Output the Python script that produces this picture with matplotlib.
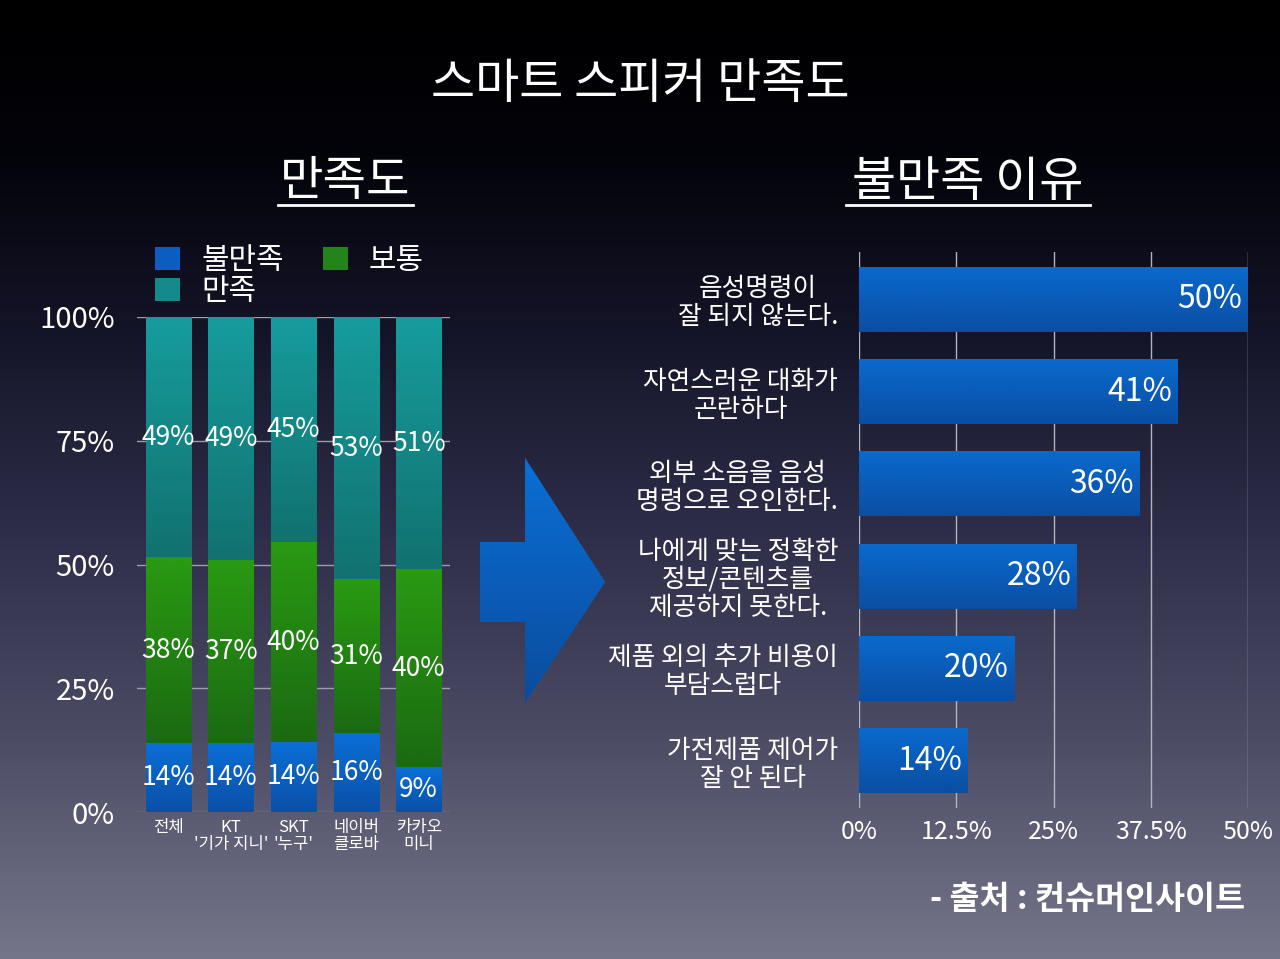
import matplotlib
matplotlib.use("Agg")
import numpy as np
import matplotlib.pyplot as plt
from matplotlib.colors import LinearSegmentedColormap, to_rgb
from matplotlib.patches import Polygon, Patch
from matplotlib.lines import Line2D

plt.rcParams['font.family'] = ['Noto Sans CJK KR', 'DejaVu Sans']

# 만족도 (stacked, %)
brands = ['전체', "KT\n'기가 지니'", "SKT\n'누구'", '네이버\n클로바', '카카오\n미니']
unsatisfied = [14, 14, 14, 16, 9]
neutral = [38, 37, 40, 31, 40]
satisfied = [49, 49, 45, 53, 51]
left_yticks = [0, 25, 50, 75, 100]

# 불만족 이유 (%)
reasons = ['음성명령이\n잘 되지 않는다.', '자연스러운 대화가\n곤란하다',
           '외부 소음을 음성\n명령으로 오인한다.',
           '나에게 맞는 정확한\n정보/콘텐츠를\n제공하지 못한다.',
           '제품 외의 추가 비용이\n부담스럽다', '가전제품 제어가\n잘 안 된다']
reason_vals = [50, 41, 36, 28, 20, 14]
right_xticks = [0, 12.5, 25, 37.5, 50]

W, H = 1280, 959
fig = plt.figure(figsize=(W / 100, H / 100), dpi=100)

# background gradient, pixel coordinates
bg = fig.add_axes([0, 0, 1, 1], zorder=-10)
bg.axis('off')
bg_cmap = LinearSegmentedColormap.from_list('bg', [
    (0.0, '#000000'), (0.16, '#03030a'), (0.35, '#151529'),
    (0.55, '#2d2d49'), (0.78, '#4d4d66'), (1.0, '#75758a')])
bg.imshow(np.linspace(0, 1, 256).reshape(-1, 1), cmap=bg_cmap, aspect='auto',
          extent=(0, W, H, 0), interpolation='bilinear')


def grad(c_top, c_bot):
    a, b = np.array(to_rgb(c_top)), np.array(to_rgb(c_bot))
    t = np.linspace(0, 1, 64).reshape(-1, 1, 1)
    return a + (b - a) * t


def fill_bar(ax, patch, c_top, c_bot, flipped=False):
    x0, y0 = patch.get_x(), patch.get_y()
    x1, y1 = x0 + patch.get_width(), y0 + patch.get_height()
    ext = (x0, x1, y1, y0) if flipped else (x0, x1, y0, y1)
    im = ax.imshow(grad(c_top, c_bot), extent=ext, origin='upper',
                   aspect='auto', interpolation='bilinear', zorder=patch.get_zorder() + 0.1)
    im.set_clip_path(patch)


# arrow between the charts
arrow_pts = [(480, 542), (525, 542), (525, 458), (605, 582),
             (525, 703), (525, 622), (480, 622)]
arrow = Polygon(arrow_pts, closed=True, fc='#0a5cbc', ec='none', zorder=1)
bg.add_patch(arrow)
aim = bg.imshow(grad('#0b6fd4', '#0a4c9e'), extent=(480, 605, 703, 458),
                aspect='auto', interpolation='bilinear', zorder=2)
aim.set_clip_path(arrow)
bg.set_xlim(0, W)
bg.set_ylim(H, 0)

# titles
fig.text(640 / W, 1 - 84 / H, '스마트 스피커 만족도', color='white', fontsize=34.5,
         ha='center', va='center')
fig.text(345 / W, 1 - 182 / H, '만족도', color='white', fontsize=34,
         ha='center', va='center')
fig.text(968 / W, 1 - 182 / H, '불만족 이유', color='white', fontsize=34.5,
         ha='center', va='center')
for xa, xb in [(278, 413), (846, 1090)]:
    fig.add_artist(Line2D([xa / W, xb / W], [1 - 205 / H, 1 - 205 / H],
                          color='white', lw=2))

fig.text(1245 / W, 1 - 900 / H, '- 출처 : 컨슈머인사이트', color='white',
         fontsize=23.5, fontweight='bold', ha='right', va='center')

# left: stacked bars, scaled to 100%
ax1 = fig.add_axes([137 / W, 147 / H, 313 / W, 495 / H])
ax1.patch.set_alpha(0)
x = np.arange(len(brands))
bw = 0.72
totals = np.array(unsatisfied) + np.array(neutral) + np.array(satisfied)
h1 = np.array(unsatisfied) / totals * 100
h2 = np.array(neutral) / totals * 100
h3 = np.array(satisfied) / totals * 100
b1 = ax1.bar(x, h1, bw, color='#0a5ec0', zorder=2)
b2 = ax1.bar(x, h2, bw, bottom=h1, color='#22841a', zorder=2)
b3 = ax1.bar(x, h3, bw, bottom=h1 + h2, color='#148a8a', zorder=2)
for bars, raw, ct, cb in [(b1, unsatisfied, '#0b6fd6', '#0a50a8'),
                          (b2, neutral, '#2a9a12', '#1b6a12'),
                          (b3, satisfied, '#179c9d', '#117270')]:
    for p in bars:
        fill_bar(ax1, p, ct, cb)
    ax1.bar_label(bars, labels=[f'{v}%' for v in raw],
                  label_type='center', color='white', fontsize=19, zorder=5)
ax1.set_xlim(-0.5, len(brands) - 0.5)
ax1.set_ylim(0, 100)
ax1.set_yticks(left_yticks)
ax1.set_yticklabels([f'{v}%' for v in left_yticks])
ax1.set_xticks(x)
ax1.set_xticklabels(brands, linespacing=1.0)
ax1.tick_params(axis='y', length=0, pad=16, labelsize=21, labelcolor='white')
ax1.tick_params(axis='x', length=0, pad=5, labelsize=12, labelcolor='white')
ax1.grid(axis='y', color='#9c9cac', lw=1, zorder=0)
ax1.set_axisbelow(True)
for s in ax1.spines.values():
    s.set_visible(False)

handles = [Patch(fc='#0a5ec0'), Patch(fc='#148a8a'), Patch(fc='#22841a')]
leg = ax1.legend(handles, ['불만족', '만족', '보통'], ncol=2, frameon=False,
                 loc='upper left', bbox_to_anchor=(140 / W, 1 - 230 / H),
                 bbox_transform=fig.transFigure, fontsize=21.5,
                 handlelength=0.85, handleheight=0.85, handletextpad=0.7,
                 columnspacing=1.3, labelspacing=0.0, borderpad=0,
                 labelcolor='white')

# right: horizontal bars
ax2 = fig.add_axes([859 / W, 151 / H, 389 / W, 556 / H])
ax2.patch.set_alpha(0)
y = np.arange(len(reasons))
hb = ax2.barh(y, reason_vals, 0.705, color='#0a5cbc', zorder=2)
for p in hb:
    fill_bar(ax2, p, '#0a6acd', '#0a4ea4', flipped=True)
for yi, v in zip(y, reason_vals):
    ax2.annotate(f'{v}%', (v, yi), xytext=(-4, 0), textcoords='offset points',
                 ha='right', va='center', color='white', fontsize=23, zorder=5)
ax2.set_xlim(0, 50)
ax2.set_ylim(len(reasons) - 1 + 0.515, -0.515)
ax2.set_xticks(right_xticks)
ax2.set_xticklabels([f'{v:g}%' for v in right_xticks])
ax2.set_yticks(y)
ax2.set_yticklabels(reasons, multialignment='center', linespacing=1.1)
ax2.tick_params(axis='y', length=0, pad=15, labelsize=18.5, labelcolor='white')
ax2.tick_params(axis='x', length=0, pad=8, labelsize=18, labelcolor='white')
ax2.grid(axis='x', color='#b4b4c0', lw=1, zorder=0)
ax2.set_axisbelow(True)
for s in ax2.spines.values():
    s.set_visible(False)

fig.savefig('out.png', dpi=100)
